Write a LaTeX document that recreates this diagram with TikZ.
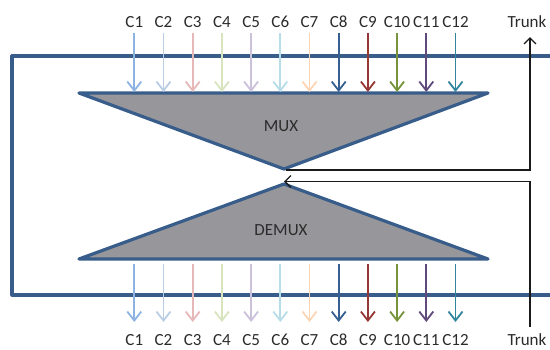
\documentclass[tikz,border=0pt]{standalone}
\usepackage{fontspec}
\setmainfont{Carlito}
\usetikzlibrary{arrows.meta}
\definecolor{frameblue}{HTML}{385D8A}
\definecolor{trifill}{HTML}{97979B}
\definecolor{txt}{HTML}{2B2B2B}
\definecolor{trunkc}{HTML}{1A1A1A}
\definecolor{c1}{HTML}{8DB3E2}
\definecolor{c2}{HTML}{B9CDE5}
\definecolor{c3}{HTML}{E6B9B8}
\definecolor{c4}{HTML}{D7E4BD}
\definecolor{c5}{HTML}{CCC1DA}
\definecolor{c6}{HTML}{B7DEE8}
\definecolor{c7}{HTML}{FCD5B5}
\definecolor{c8}{HTML}{376092}
\definecolor{c9}{HTML}{953735}
\definecolor{c10}{HTML}{77933C}
\definecolor{c11}{HTML}{604A7B}
\definecolor{c12}{HTML}{31859C}
\begin{document}
\begin{tikzpicture}[x=1pt,y=-1pt,
  every node/.style={font=\fontsize{17}{20}\selectfont, text=txt, inner sep=0pt},
  frameline/.style={draw=frameblue, line width=3.2pt, line join=round, line cap=round},
  tri/.style={draw=frameblue, fill=trifill, line width=3.2pt, line join=round},
  chan/.style={line width=1.8pt, -{Straight Barb[length=9pt,width=14pt,line width=1.8pt]}},
  trunkline/.style={draw=trunkc, line width=1.4pt, -{Straight Barb[length=6pt,width=12pt,line width=1.4pt]}}]
\useasboundingbox (0,0) rectangle (550,349);
% frame
\coordinate (frtr) at (552,56);
\coordinate (frtl) at (12,56);
\coordinate (frbl) at (12,295);
\coordinate (frbr) at (552,295);
\draw[frameline] (frtr) -- (frtl) -- (frbl) -- (frbr);
% triangles
\coordinate (mtl) at (79,93);
\coordinate (mtr) at (488,93);
\coordinate (map) at (284,169);
\coordinate (dbl) at (79,259);
\coordinate (dbr) at (488,259);
\coordinate (dap) at (284,184);
\filldraw[tri] (mtl) -- (mtr) -- (map) -- cycle;
\filldraw[tri] (dbl) -- (dbr) -- (dap) -- cycle;
\node (mux) at (281,126) {MUX};
\node (demux) at (281,230) {DEMUX};
% channels
\foreach \i/\c in {1/c1,2/c2,3/c3,4/c4,5/c5,6/c6,7/c7,8/c8,9/c9,10/c10,11/c11,12/c12}{
  \pgfmathsetmacro\xx{134.3+(\i-1)*29.2}
  \node (tl\i) at (\xx,22) {C\i};
  \coordinate (ts\i) at (\xx,33);
  \coordinate (te\i) at (\xx,92);
  \draw[chan,draw=\c] (ts\i) -- (te\i);
  \node (bl\i) at (\xx,340) {C\i};
  \coordinate (bs\i) at (\xx,264);
  \coordinate (be\i) at (\xx,322);
  \draw[chan,draw=\c] (bs\i) -- (be\i);
}
% trunks
\node (trtop) at (527,22) {Trunk};
\node (trbot) at (527,340) {Trunk};
\coordinate (tta) at (286,170);
\coordinate (ttb) at (530,170);
\coordinate (ttc) at (530,37);
\draw[trunkline] (tta) -- (ttb) -- (ttc);
\coordinate (tba) at (530,327);
\coordinate (tbb) at (530,181.5);
\coordinate (tbc) at (284,181.5);
\draw[trunkline] (tba) -- (tbb) -- (tbc);
\end{tikzpicture}
\end{document}
